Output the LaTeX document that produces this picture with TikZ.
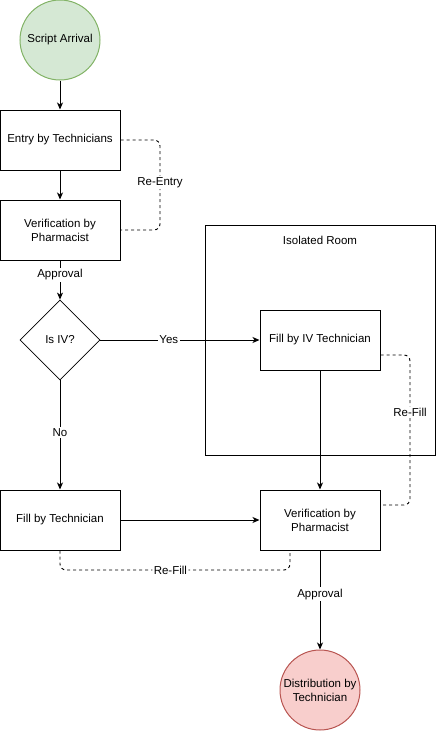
\documentclass[tikz,border=0pt]{standalone}
\usepackage{fontspec}
\setmainfont{Liberation Sans}
\usepackage{tikz}
\usetikzlibrary{calc}
\usetikzlibrary{shapes.geometric}
\usetikzlibrary{arrows.meta}

\definecolor{startfill}{HTML}{D5E8D4}
\definecolor{startline}{HTML}{82B366}
\definecolor{endfill}{HTML}{F8CECC}
\definecolor{endline}{HTML}{B85450}

\tikzset{
    procbox/.style={rectangle,draw=black,line width=1pt,minimum width=120pt,minimum height=60pt,align=center,inner sep=0pt},
    endpoint/.style={circle,line width=1pt,minimum size=80pt,align=center,inner sep=0pt},
    decision/.style={diamond,draw=black,line width=0.8pt,minimum width=80pt,minimum height=80pt,aspect=1,inner sep=0pt},
    flow/.style={line width=1pt,-{Stealth[length=7pt,width=6pt,inset=2pt]}},
    redo/.style={line width=0.9pt,dashed,dash pattern=on 3pt off 3pt,rounded corners=6pt},
    edgetext/.style={fill=white,inner sep=1.5pt}
}

\begin{document}
\begin{tikzpicture}[x=1pt,y=-1pt]
    \fontsize{11.5}{14}\selectfont
    \useasboundingbox (0,0) rectangle (437,731);

    % The room around the IV steps
    \node[rectangle,draw=black,line width=1pt,minimum width=230pt,minimum height=230pt,inner sep=0pt] (room) at (320,340) {};
    \node (roomtext) at (320,240) {Isolated Room};

    % Place the nodes
    \node[endpoint,fill=startfill,draw=startline] (arrival) at (60,40) {Script Arrival};
    \node[procbox] (entry)  at (60,140) {Entry by Technicians};
    \node[procbox] (verify) at (60,230) {Verification by\\Pharmacist};
    \node[decision] (isiv) at (60,340) {Is IV?};
    \node[procbox,fill=white] (ivfill) at (320,340) {Fill by IV Technician};
    \node[procbox] (techfill) at (60,520) {Fill by Technician};
    \node[procbox,fill=white] (reverify) at (320,520) {Verification by\\Pharmacist};
    \node[endpoint,fill=endfill,draw=endline] (distrib) at (320,690) {Distribution by\\Technician};

    % Draw the lines
    \draw[flow] (arrival) -- (entry);
    \draw[flow] (entry) -- (verify);
    \draw[flow] (verify) -- node[edgetext,pos=0.37] {Approval} (isiv);
    \draw[flow] (isiv.east) -- node[edgetext,pos=0.43] {Yes} (ivfill.west);
    \draw[flow] (isiv.south) -- node[edgetext,pos=0.48] {No} (techfill.north);
    \draw[flow] (ivfill) -- (reverify);
    \draw[flow] (techfill) -- (reverify);
    \draw[flow] (reverify) -- node[edgetext,pos=0.44] {Approval} (distrib);

    % Dashed loops back
    \draw[redo] (entry.east) -- (160,140) -- node[edgetext,pos=0.47] {Re-Entry} (160,230) -- (verify.east);
    \draw[redo] ($(ivfill.east)+(0,15)$) -- (410,355) -- node[edgetext,pos=0.38] {Re-Fill} (410,505) -- ($(reverify.east)+(0,-15)$);
    \draw[redo] (techfill.south) -- (60,570) -- node[edgetext,pos=0.48] {Re-Fill} (290,570) -- ($(reverify.south)+(-30,0)$);

\end{tikzpicture}
\end{document}
